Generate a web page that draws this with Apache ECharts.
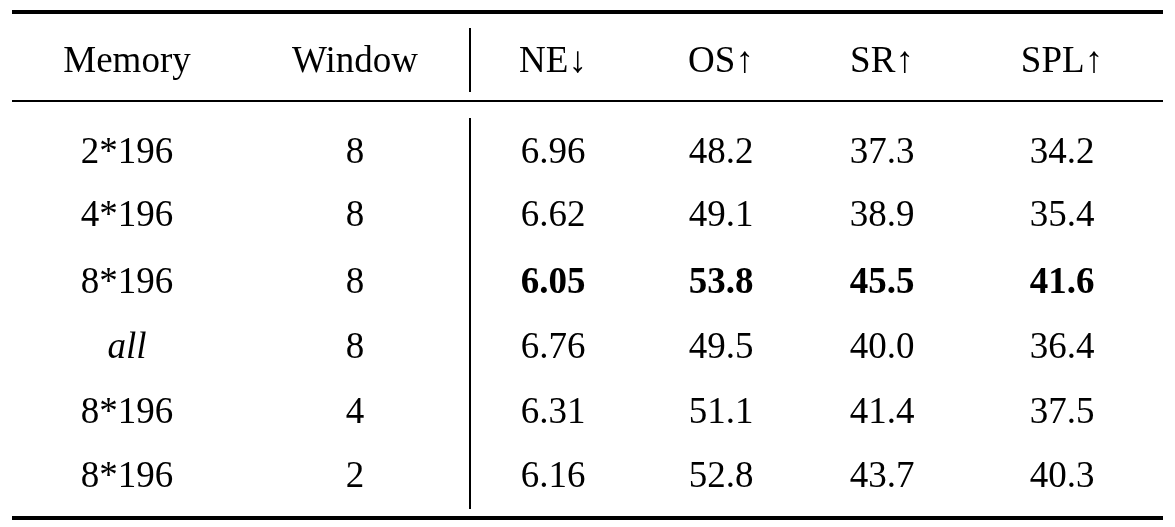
<!DOCTYPE html><html><head><meta charset="utf-8">
<script src="https://cdn.jsdelivr.net/npm/echarts@6/dist/echarts.min.js"></script>
<style>html,body{margin:0;background:#fff}#c{width:1175px;height:527px}</style></head><body><div id="c"></div>
<script>
const columns=['Memory','Window','NE↓','OS↑','SR↑','SPL↑'];
const memory=['2*196','4*196','8*196','all','8*196','8*196'];
const windowSize=['8','8','8','8','4','2'];
const NE=['6.96','6.62','6.05','6.76','6.31','6.16'];
const OS=['48.2','49.1','53.8','49.5','51.1','52.8'];
const SR=['37.3','38.9','45.5','40.0','41.4','43.7'];
const SPL=['34.2','35.4','41.6','36.4','37.5','40.3'];
const bestRow=2;
const cols=[memory,windowSize,NE,OS,SR,SPL];
const xPos=[127,355,553,721,882,1062];
const yPos=[62,153,216,283,348,413,477];
const data=[];
columns.forEach((c,i)=>data.push({value:[xPos[i],yPos[0]],label:{formatter:c}}));
cols.forEach((col,ci)=>col.forEach((v,ri)=>{
  const lab={formatter:v};
  if(ri===bestRow&&ci>=2) lab.fontWeight='bold';
  if(ci===0&&v==='all') lab.fontStyle='italic';
  data.push({value:[xPos[ci],yPos[ri+1]],label:lab});
}));
const ch=echarts.init(document.getElementById('c'));
ch.setOption({animation:false,
 grid:{left:0,right:0,top:0,bottom:0},
 xAxis:{type:'value',min:0,max:1175,show:false},
 yAxis:{type:'value',min:0,max:527,inverse:true,show:false},
 graphic:[
  {type:'rect',shape:{x:12,y:10,width:1151,height:4},style:{fill:'#000'}},
  {type:'rect',shape:{x:12,y:100,width:1151,height:2},style:{fill:'#000'}},
  {type:'rect',shape:{x:12,y:516,width:1151,height:4},style:{fill:'#000'}},
  {type:'rect',shape:{x:469,y:28,width:2,height:64},style:{fill:'#000'}},
  {type:'rect',shape:{x:469,y:118,width:2,height:391},style:{fill:'#000'}}
 ],
 series:[{type:'scatter',symbolSize:0,data:data,itemStyle:{color:'#000',opacity:1},
  emphasis:{disabled:true},
  label:{show:true,position:'inside',color:'#000',opacity:1,textBorderWidth:0,fontFamily:'Liberation Serif',fontSize:37}}]
});
</script></body></html>
